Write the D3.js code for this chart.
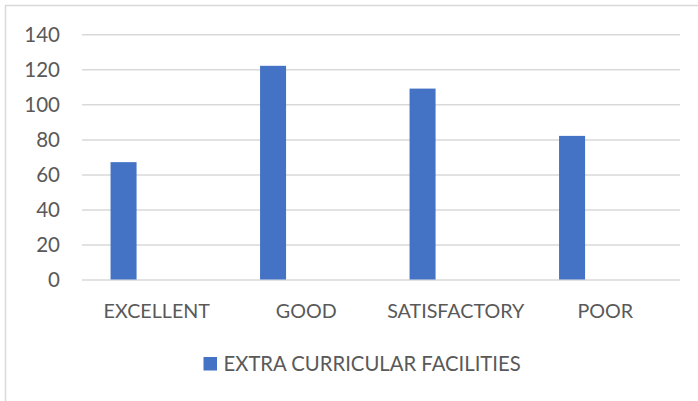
<!DOCTYPE html>
<html>
<head>
<meta charset="utf-8">
<script src="https://cdn.jsdelivr.net/npm/d3@7"></script>
<style>
  html, body { margin: 0; padding: 0; background: #fff; }
  svg { display: block; }
  text { font-family: Lato, "Open Sans", sans-serif; fill: #595959; }
</style>
</head>
<body>
<div id="chart"></div>
<script>
const categories = ["EXCELLENT", "GOOD", "SATISFACTORY", "POOR"];
const seriesName = "EXTRA CURRICULAR FACILITIES";
const values = [67, 122, 109, 82];
const yTicks = [0, 20, 40, 60, 80, 100, 120, 140];

const W = 698, H = 401;
const svg = d3.select("#chart").append("svg").attr("width", W).attr("height", H);

// chart border (extends past the right/bottom edges)
svg.append("rect").attr("x", 5.5).attr("y", 5.5).attr("width", 720).attr("height", 420)
  .attr("fill", "#fff").attr("stroke", "#d9d9d9").attr("stroke-width", 1.5);

const x = d3.scaleBand().domain(categories).range([82, 680]).paddingInner(0).paddingOuter(0);
const y = d3.scaleLinear().domain([0, 140]).range([279.5, 34.3]);

// gridlines + y labels via axis
const yAxis = d3.axisLeft(y).tickValues(yTicks).tickSize(-(680 - 82)).tickPadding(22).tickFormat(d3.format("d"));
const gy = svg.append("g").attr("transform", "translate(82,0)").call(yAxis);
gy.select(".domain").remove();
gy.selectAll(".tick line").attr("stroke", "#d9d9d9").attr("stroke-width", 1.5);
gy.selectAll(".tick text").attr("font-size", 20.5).attr("fill", "#595959")
  .attr("font-family", "Lato, 'Open Sans', sans-serif").attr("dy", "0.36em");

// bars
const step = x.step();
svg.append("g").selectAll("rect").data(values).join("rect")
  .attr("x", (d, i) => x(categories[i]) + step * 0.191)
  .attr("width", step * 0.174)
  .attr("y", d => y(d))
  .attr("height", d => y(0) - y(d))
  .attr("fill", "#4472c4");

// category labels via axis
const xAxis = d3.axisBottom(x).tickSize(0).tickPadding(0);
const gx = svg.append("g").attr("transform", "translate(0,279.5)").call(xAxis);
gx.select(".domain").remove();
gx.selectAll(".tick text").attr("font-size", 19.7).attr("fill", "#595959")
  .attr("font-family", "Lato, 'Open Sans', sans-serif").attr("dy", null).attr("y", 38.8);

// legend
const lg = svg.append("g").attr("transform", "translate(203.5,357)");
lg.append("rect").attr("width", 13.5).attr("height", 13.5).attr("fill", "#4472c4");
lg.append("text").attr("x", 20).attr("y", 14).attr("font-size", 20.3).text(seriesName);
</script>
</body>
</html>
